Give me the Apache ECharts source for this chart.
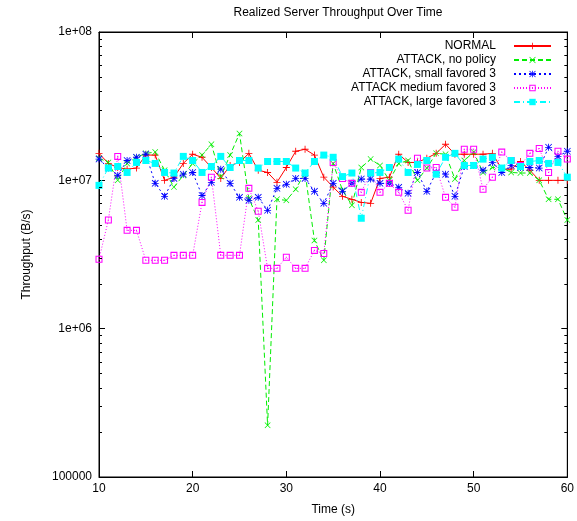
<!DOCTYPE html>
<html><head><meta charset="utf-8">
<script src="https://cdn.jsdelivr.net/npm/echarts@6/dist/echarts.min.js"></script>
<style>html,body{margin:0;padding:0;background:#fff}#c{width:577px;height:521px}</style>
</head><body><div id="c"></div>
<script>
const times = [10,11,12,13,14,15,16,17,18,19,20,21,22,23,24,25,26,27,28,29,30,31,32,33,34,35,36,37,38,39,40,41,42,43,44,45,46,47,48,49,50,51,52,53,54,55,56,57,58,59,60];
const normal = [15.2e6,13.0e6,12.2e6,11.9e6,12.1e6,14.8e6,14.8e6,10.0e6,10.5e6,13.0e6,15.0e6,14.3e6,12.2e6,10.3e6,12.6e6,13.2e6,15.2e6,11.7e6,11.3e6,9.7e6,12.2e6,15.7e6,16.2e6,14.8e6,10.5e6,9.0e6,7.8e6,7.45e6,7.1e6,7.0e6,10.3e6,10.5e6,15.0e6,13.2e6,13.2e6,14.1e6,15.2e6,17.5e6,15.0e6,15.0e6,15.0e6,15.0e6,15.2e6,11.9e6,11.9e6,13.4e6,11.7e6,10.0e6,10.0e6,10.0e6,10.0e6];
const attackNoPolicy = [14.1e6,13.2e6,10.0e6,13.0e6,14.3e6,15.2e6,15.5e6,11.7e6,9.0e6,10.8e6,13.0e6,14.8e6,17.5e6,10.6e6,14.8e6,20.7e6,7.56e6,5.4e6,0.223e6,7.45e6,7.33e6,8.7e6,11.3e6,3.93e6,2.89e6,13.0e6,8.56e6,6.8e6,12.2e6,13.9e6,12.6e6,10.0e6,13.0e6,13.6e6,10.0e6,12.1e6,15.2e6,15.0e6,10.2e6,13.6e6,15.5e6,11.3e6,12.2e6,12.2e6,11.3e6,11.2e6,11.2e6,10.0e6,7.45e6,7.45e6,5.4e6];
const attackSmall = [13.9e6,12.1e6,10.8e6,13.6e6,14.3e6,15.0e6,9.54e6,7.8e6,10.3e6,11.0e6,11.3e6,7.9e6,9.7e6,11.9e6,9.54e6,7.68e6,7.33e6,7.68e6,6.28e6,8.83e6,9.4e6,10.3e6,10.3e6,8.43e6,7.0e6,9.54e6,8.43e6,9.54e6,10.2e6,10.2e6,9.54e6,9.54e6,8.97e6,8.18e6,11.3e6,8.43e6,11.3e6,11.0e6,7.8e6,12.4e6,12.6e6,11.7e6,13.2e6,11.3e6,12.6e6,12.2e6,12.2e6,12.1e6,16.7e6,14.5e6,15.7e6];
const attackMedium = [2.94e6,5.4e6,14.5e6,4.6e6,4.6e6,2.89e6,2.89e6,2.89e6,3.12e6,3.12e6,3.12e6,7.1e6,10.5e6,3.12e6,3.12e6,3.12e6,8.83e6,6.19e6,2.55e6,2.55e6,3.03e6,2.55e6,2.55e6,3.37e6,3.21e6,13.2e6,10.3e6,9.54e6,8.3e6,11.3e6,8.3e6,9.54e6,8.3e6,6.28e6,14.1e6,12.1e6,12.2e6,7.68e6,6.58e6,16.2e6,16.2e6,8.7e6,10.5e6,15.5e6,13.6e6,12.6e6,15.2e6,16.4e6,11.3e6,15.7e6,13.9e6];
const attackLarge = [9.25e6,12.1e6,12.4e6,11.3e6,13.2e6,13.6e6,13.0e6,11.3e6,11.2e6,14.5e6,13.6e6,11.3e6,12.4e6,14.5e6,12.2e6,13.6e6,13.6e6,12.1e6,13.4e6,13.4e6,13.4e6,12.1e6,11.2e6,13.4e6,14.8e6,14.3e6,10.6e6,11.2e6,5.55e6,11.2e6,11.3e6,12.2e6,13.9e6,11.3e6,12.8e6,13.6e6,11.0e6,14.3e6,15.2e6,12.6e6,12.6e6,13.9e6,14.3e6,12.1e6,13.6e6,12.4e6,13.4e6,13.6e6,13.0e6,13.2e6,10.5e6];
const seriesNames = ['NORMAL','ATTACK, no policy','ATTACK, small favored 3','ATTACK medium favored 3','ATTACK, large favored 3'];
const xTicks = [10,20,30,40,50,60];
const yTickValues = [1e5,1e6,1e7,1e8];
const yTickLabels = ['100000','1e+06','1e+07','1e+08'];
const yMinorValues = [2e5,3e5,4e5,5e5,6e5,7e5,8e5,9e5,2e6,3e6,4e6,5e6,6e6,7e6,8e6,9e6,2e7,3e7,4e7,5e7,6e7,7e7,8e7,9e7];

const FONT = "'Liberation Sans', Arial, Helvetica, sans-serif";
const PLUS = 'path://M4.4,0H5.6V4.4H10V5.6H5.6V10H4.4V5.6H0V4.4H4.4Z';
const CROSS = 'path://M0,0.8L0.8,0L5,4.2L9.2,0L10,0.8L5.8,5L10,9.2L9.2,10L5,5.8L0.8,10L0,9.2L4.2,5Z';
const STAR = 'path://M4.4,0H5.6V10H4.4Z M0,4.4H10V5.6H0Z M0,0.8L0.8,0L10,9.2L9.2,10Z M9.2,0L10,0.8L0.8,10L0,9.2Z';
const BOXDOT = 'path://M0,0H10V10H0Z M1.5,1.5V8.5H8.5V1.5Z M4.2,4.2H5.8V5.8H4.2Z';

const styles = [
  {color:'#ff0000', type:'solid', symbol:PLUS, size:7},
  {color:'#00ee00', type:[5,3], symbol:CROSS, size:6},
  {color:'#0000ff', type:[2,3], symbol:STAR, size:7},
  {color:'#ff00ff', type:[1,2], symbol:BOXDOT, size:7},
  {color:'#00ffff', type:[6,3,1,3], symbol:'rect', size:7}
];
const allData = [normal, attackNoPolicy, attackSmall, attackMedium, attackLarge];

const series = allData.map((vals,i)=>({
  name: seriesNames[i],
  type:'line',
  data: times.map((t,k)=>[t, vals[k]]),
  symbol: styles[i].symbol,
  symbolSize: styles[i].size,
  showAllSymbol: true,
  animation:false,
  lineStyle:{color:styles[i].color, width:1, type:styles[i].type},
  itemStyle:{color:styles[i].color, borderWidth:0},
  emphasis:{disabled:true}
}));

// minor log ticks (2..9 per decade) on both vertical borders, placed by the y scale
series.push({
  type:'custom',
  name:'_minorTicks',
  data: yMinorValues.map(v=>[10, v]),
  silent:true,
  animation:false,
  z:10,
  renderItem:(params, api)=>{
    const p = api.coord([api.value(0), api.value(1)]);
    const cs = params.coordSys;
    const y = Math.round(p[1]) + 0.5;
    return {type:'group', children:[
      {type:'line', shape:{x1:cs.x, y1:y, x2:cs.x+3, y2:y}, style:{stroke:'#000', lineWidth:1}},
      {type:'line', shape:{x1:cs.x+cs.width-3, y1:y, x2:cs.x+cs.width, y2:y}, style:{stroke:'#000', lineWidth:1}}
    ]};
  }
});

const yBase = {type:'log', logBase:10, min:1e5, max:1e8, gridIndex:0};
const chart = echarts.init(document.getElementById('c'), null, {renderer:'canvas'});
chart.setOption({
  backgroundColor:'#ffffff',
  animation:false,
  textStyle:{fontFamily:FONT},
  title:{text:'Realized Server Throughput Over Time', left:333, textAlign:'center', top:2,
    textStyle:{fontSize:12, fontWeight:'normal', color:'#000', fontFamily:FONT}},
  grid:{left:99, right:9, top:32, bottom:44, show:true, borderColor:'#000', borderWidth:1, backgroundColor:'transparent'},
  legend:{
    orient:'vertical', right:25, top:39, align:'right', padding:0, itemGap:0,
    itemWidth:37, itemHeight:8, data:seriesNames,
    textStyle:{fontSize:12, color:'#000', fontFamily:FONT, lineHeight:14, padding:[0,13,0,0]},
    selectedMode:false
  },
  xAxis:[
    {type:'value', min:10, max:60, interval:10, position:'bottom',
      name:'Time (s)', nameLocation:'middle', nameGap:27,
      nameTextStyle:{fontSize:12, color:'#000', fontFamily:FONT},
      axisLine:{show:true, lineStyle:{color:'#000'}},
      axisTick:{show:true, inside:true, length:6, lineStyle:{color:'#000'}},
      axisLabel:{show:true, margin:6, fontSize:12, color:'#000', fontFamily:FONT,
        formatter:(v)=> xTicks.indexOf(v)>=0 ? String(v) : ''},
      splitLine:{show:false}},
    {type:'value', min:10, max:60, interval:10, position:'top',
      axisLine:{show:true, lineStyle:{color:'#000'}},
      axisTick:{show:true, inside:true, length:6, lineStyle:{color:'#000'}},
      axisLabel:{show:false}, splitLine:{show:false}}
  ],
  yAxis:[
    Object.assign({}, yBase, {position:'left',
      name:'Throughput (B/s)', nameLocation:'middle', nameGap:66, nameRotate:90,
      nameTextStyle:{fontSize:12, color:'#000', fontFamily:FONT},
      axisLine:{show:true, lineStyle:{color:'#000'}},
      axisTick:{show:true, inside:true, length:6, lineStyle:{color:'#000'}},
      axisLabel:{show:true, margin:7, fontSize:12, color:'#000', fontFamily:FONT,
        formatter:(v)=>{ const i = yTickValues.findIndex(t=>Math.abs(Math.log10(t)-Math.log10(v))<1e-6); return i>=0 ? yTickLabels[i] : ''; }},
      splitLine:{show:false}}),
    Object.assign({}, yBase, {position:'right',
      axisLine:{show:true, lineStyle:{color:'#000'}},
      axisTick:{show:true, inside:true, length:6, lineStyle:{color:'#000'}},
      axisLabel:{show:false}, splitLine:{show:false}})
  ],
  series: series
});
</script>
</body></html>
